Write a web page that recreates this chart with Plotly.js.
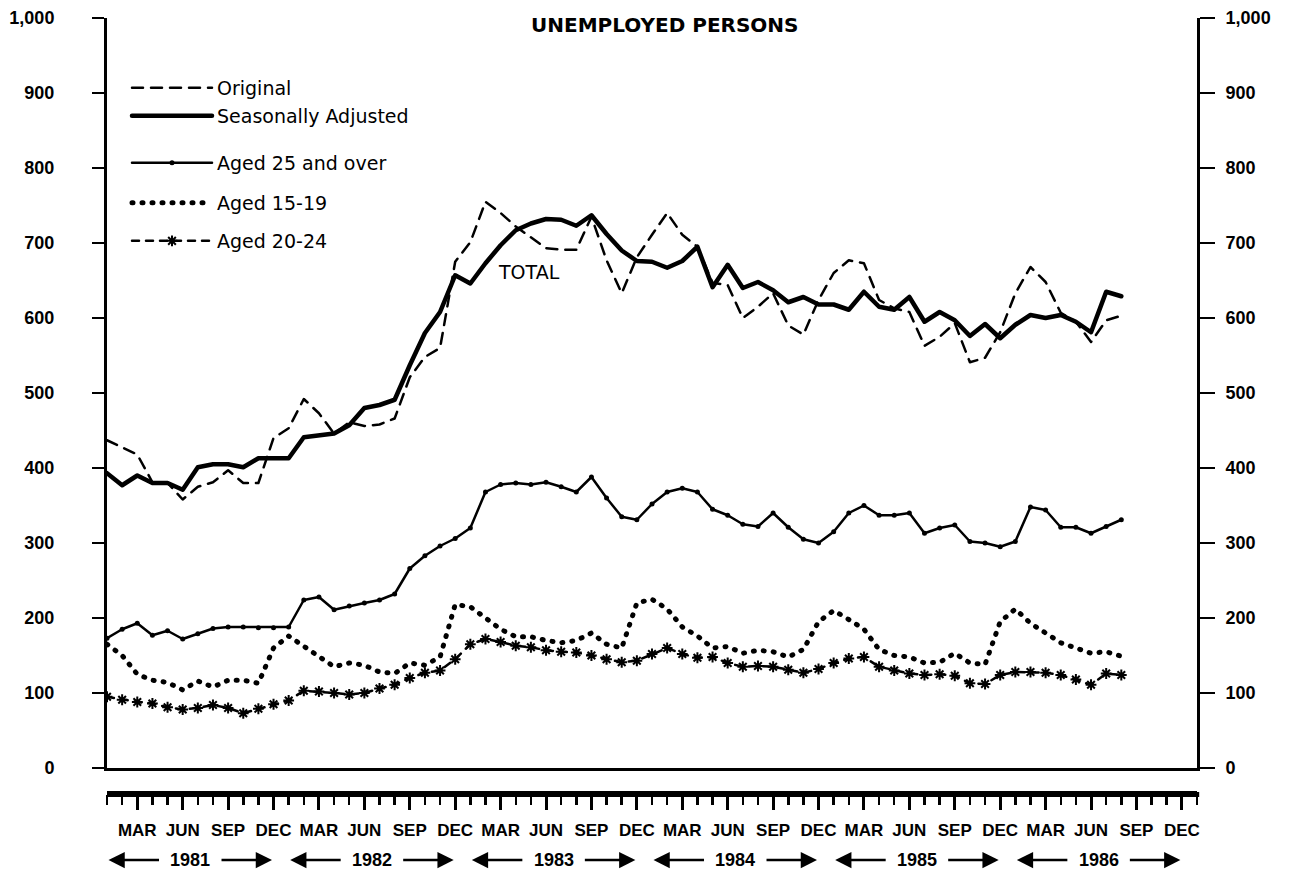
<!DOCTYPE html>
<html>
<head>
<meta charset="utf-8">
<script src="https://cdn.plot.ly/plotly-3.0.1.min.js"></script>
<style>
  html, body { margin: 0; padding: 0; background: #fff; }
  #chart { width: 1311px; height: 872px; }
  path.js-line { stroke-linecap: round; stroke-linejoin: round; }
</style>
</head>
<body>
<div id="chart"></div>
<script>
// ---- Data (thousands of persons), monthly from Jan 1981 to Aug 1986 ----
const original = [437, 428, 418, 381, 380, 358, 375, 381, 397, 380,
                  380, 440, 453, 492, 473, 446, 461, 456, 458, 466,
                  521, 548, 560, 675, 701, 755, 740, 722, 708, 693,
                  691, 691, 735, 677, 633, 681, 711, 740, 711, 695,
                  647, 644, 600, 615, 633, 590, 578, 624, 660, 677,
                  673, 624, 613, 608, 563, 575, 593, 541, 547, 581,
                  633, 668, 648, 607, 595, 568, 597, 603];
const seasonallyAdjusted = [393, 377, 390, 380, 380, 371, 401, 405, 405, 401,
                  413, 413, 413, 441, 444, 446, 457, 480, 484, 491,
                  537, 580, 608, 657, 646, 673, 697, 717, 726, 732,
                  731, 723, 737, 712, 690, 676, 675, 667, 676, 695,
                  641, 671, 640, 648, 637, 621, 628, 618, 618, 611,
                  635, 615, 611, 628, 595, 608, 597, 576, 592, 573,
                  591, 604, 600, 604, 595, 581, 635, 629];
const aged25over = [173, 185, 193, 177, 183, 172, 179, 186, 188, 188,
                  187, 187, 188, 224, 228, 211, 216, 220, 224, 232,
                  266, 283, 296, 306, 320, 368, 378, 380, 378, 381,
                  375, 368, 388, 360, 335, 331, 352, 368, 373, 368,
                  345, 337, 325, 322, 340, 321, 305, 300, 315, 340,
                  350, 337, 337, 340, 313, 320, 324, 302, 300, 295,
                  302, 348, 344, 321, 321, 313, 322, 331];
const aged15to19 = [165, 150, 125, 117, 114, 104, 116, 108, 117, 117,
                  113, 160, 176, 162, 147, 135, 140, 137, 128, 126,
                  140, 137, 148, 218, 215, 200, 185, 175, 175, 170,
                  167, 170, 180, 165, 160, 220, 225, 212, 188, 176,
                  160, 162, 153, 157, 155, 148, 158, 195, 210, 198,
                  185, 158, 150, 148, 140, 141, 153, 140, 138, 195,
                  212, 193, 180, 167, 160, 153, 155, 149];
const aged20to24 = [95, 91, 88, 86, 81, 78, 80, 84, 80, 73,
                  79, 85, 90, 103, 102, 100, 98, 100, 106, 111,
                  120, 127, 130, 145, 165, 172, 168, 163, 161, 157,
                  155, 154, 150, 145, 141, 143, 152, 160, 152, 147,
                  148, 140, 135, 136, 135, 131, 127, 132, 140, 146,
                  148, 135, 130, 126, 124, 125, 123, 113, 112, 124,
                  128, 128, 127, 124, 118, 111, 126, 124];

const years = ['1981', '1982', '1983', '1984', '1985', '1986'];
const quarterLabels = ['MAR', 'JUN', 'SEP', 'DEC'];
const seriesNames = ['Original', 'Seasonally Adjusted', 'Aged 25 and over', 'Aged 15-19', 'Aged 20-24'];

// month index: 0 = Jan 1981
const monthIdx = original.map((_, i) => i);

// quarter tick values / labels
const tickvals = [], ticktext = [];
years.forEach((y, k) => quarterLabels.forEach((q, j) => { tickvals.push(12 * k + 2 + 3 * j); ticktext.push(q); }));

const FONT = 'DejaVu Sans';
const FONT2 = 'Liberation Sans';
const BLACK = '#000';

const traces = [
  { x: monthIdx, y: original, name: seriesNames[0], mode: 'lines', xaxis: 'x2', yaxis: 'y2',
    line: { color: BLACK, width: 2.5, dash: '11px,8px' }, legend: 'legend' },
  { x: monthIdx, y: seasonallyAdjusted, name: seriesNames[1], mode: 'lines',
    line: { color: BLACK, width: 4.5 }, legend: 'legend2' },
  { x: monthIdx, y: aged25over, name: seriesNames[2], mode: 'lines+markers',
    line: { color: BLACK, width: 2.5 }, marker: { color: BLACK, size: 5 }, legend: 'legend3' },
  { x: monthIdx, y: aged15to19, name: seriesNames[3], mode: 'lines',
    line: { color: BLACK, width: 5, dash: '1px,9px' }, legend: 'legend4' },
  { x: monthIdx, y: aged20to24, name: seriesNames[4], mode: 'lines+markers',
    line: { color: BLACK, width: 2.5, dash: '7px,7px' },
    marker: { symbol: 'asterisk-open', size: 9, color: BLACK, line: { color: BLACK, width: 2 } },
    legend: 'legend5' }
];

// geometry helpers (paper fractions)
const plotTop = 18, paperBottom = 793, paperH = paperBottom - plotTop; // 775
const yFrac = px => (paperBottom - px) / paperH;
const legendX = (127 - 107) / 1090;

function legendAt(ypx) {
  return { x: legendX, xanchor: 'left', y: yFrac(ypx), yanchor: 'middle',
           bgcolor: 'rgba(0,0,0,0)', borderwidth: 0, itemwidth: 80,
           font: { family: FONT, size: 19, color: BLACK }, itemclick: false, itemdoubleclick: false };
}

const annotations = [
  { xref: 'paper', yref: 'paper', x: (665 - 107) / 1090, y: yFrac(25), xanchor: 'center', yanchor: 'middle',
    text: 'UNEMPLOYED PERSONS', showarrow: false, font: { family: FONT, size: 20, weight: 'bold', color: BLACK } },
  { xref: 'x', yref: 'y', x: 27.9, y: 661, text: 'TOTAL', showarrow: false,
    font: { family: FONT, size: 19, color: BLACK } }
];
const yearY = yFrac(860);
years.forEach((yr, k) => {
  annotations.push({ xref: 'x', yref: 'paper', x: 12 * k + 5.5, y: yearY, text: yr, showarrow: false,
    xanchor: 'center', yanchor: 'middle', font: { family: FONT2, size: 18, weight: 'bold', color: BLACK } });
  annotations.push({ xref: 'x', yref: 'paper', x: 12 * k + 0.1, y: yearY, text: '', showarrow: true,
    ax: 52, ay: 0, arrowhead: 2, arrowsize: 1.3, arrowwidth: 2.5, arrowcolor: BLACK });
  annotations.push({ xref: 'x', yref: 'paper', x: 12 * k + 10.9, y: yearY, text: '', showarrow: true,
    ax: -52, ay: 0, arrowhead: 2, arrowsize: 1.3, arrowwidth: 2.5, arrowcolor: BLACK });
});

const yTickFont = { family: FONT2, size: 18, weight: 'bold', color: BLACK };

const layout = {
  width: 1311, height: 872,
  margin: { l: 107, r: 114, t: plotTop, b: 872 - paperBottom, pad: 0 },
  paper_bgcolor: '#fff', plot_bgcolor: '#fff',
  font: { family: FONT, color: BLACK },
  showlegend: true,
  xaxis: { range: [0, 72], showline: true, linewidth: 2.5, linecolor: BLACK, ticks: '',
           showticklabels: false, showgrid: false, zeroline: false, fixedrange: true },
  xaxis2: { overlaying: 'x', anchor: 'free', position: 0, side: 'bottom', range: [0, 72],
            showline: true, linewidth: 4, linecolor: BLACK,
            tickmode: 'array', tickvals: tickvals, ticktext: ticktext,
            ticks: 'outside', ticklen: 15, tickwidth: 3, tickcolor: BLACK,
            tickfont: { family: FONT2, size: 17, weight: 'bold', color: BLACK }, ticklabelstandoff: 6,
            minor: { tickmode: 'linear', tick0: 0, dtick: 1, ticks: 'outside', ticklen: 10, tickwidth: 2.5,
                     tickcolor: BLACK, showgrid: false },
            showgrid: false, zeroline: false, fixedrange: true },
  yaxis: { domain: [yFrac(768), 1], range: [0, 1000], dtick: 100, tick0: 0, tickformat: ',',
           showline: true, linewidth: 3, linecolor: BLACK, ticks: 'outside', ticklen: 12, tickwidth: 2.5,
           tickcolor: BLACK, tickfont: yTickFont, ticklabelstandoff: 34,
           showgrid: false, zeroline: false, fixedrange: true },
  yaxis2: { overlaying: 'y', side: 'right', anchor: 'x', range: [0, 1000], dtick: 100, tick0: 0, tickformat: ',',
            showline: true, linewidth: 3, linecolor: BLACK, ticks: 'outside', ticklen: 15, tickwidth: 2.5,
            tickcolor: BLACK, tickfont: yTickFont, ticklabelstandoff: 7,
            showgrid: false, zeroline: false, fixedrange: true },
  shapes: [
    { type: 'line', xref: 'paper', yref: 'paper', x0: 0, x1: 1.002, y0: -0.002, y1: -0.002,
      line: { color: BLACK, width: 5 } }
  ],
  legend: legendAt(88),
  legend2: legendAt(116),
  legend3: legendAt(163),
  legend4: legendAt(203),
  legend5: legendAt(241),
  annotations: annotations
};

Plotly.newPlot('chart', traces, layout, { displayModeBar: false, staticPlot: true });
</script>
</body>
</html>
